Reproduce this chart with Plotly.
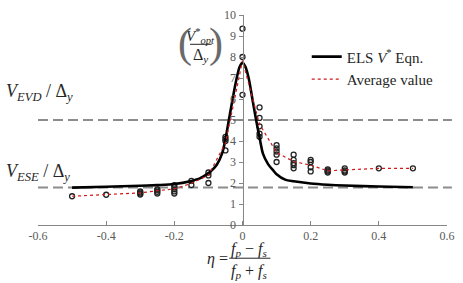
import plotly.graph_objects as go

# ---- data ----
els_eta = [-0.5, -0.4, -0.3, -0.25, -0.2, -0.15, -0.125, -0.1, -0.09, -0.075, -0.06, -0.051,
           -0.04, -0.029, -0.017, -0.008, 0.0, 0.008, 0.018, 0.029, 0.04, 0.052, 0.06, 0.075,
           0.09, 0.1, 0.125, 0.15, 0.2, 0.25, 0.3, 0.4, 0.5]
els_v = [1.78, 1.82, 1.87, 1.9, 1.95, 2.1, 2.22, 2.47, 2.6, 2.88, 3.4, 4.0,
         5.0, 6.0, 7.0, 7.55, 7.72, 7.55, 7.0, 6.0, 5.0, 4.0, 3.4, 2.9,
         2.6, 2.42, 2.16, 2.08, 1.98, 1.92, 1.88, 1.83, 1.8]

avg_eta = [-0.5, -0.4, -0.3, -0.25, -0.2, -0.15, -0.1, -0.05, 0.0, 0.05, 0.1, 0.15, 0.2, 0.25, 0.3, 0.4, 0.5]
avg_v = [1.37, 1.44, 1.53, 1.63, 1.72, 1.98, 2.37, 3.9, 7.83, 4.8, 3.45, 3.02, 2.85, 2.58, 2.63, 2.7, 2.7]

pts_eta = [-0.5, -0.4,
           -0.3, -0.3, -0.3, -0.3,
           -0.25, -0.25, -0.25, -0.25,
           -0.2, -0.2, -0.2, -0.2, -0.2,
           -0.15, -0.15,
           -0.1, -0.1, -0.1,
           -0.05, -0.05, -0.05, -0.05,
           0.0, 0.0, 0.0,
           0.05, 0.05, 0.05, 0.05, 0.05,
           0.1, 0.1, 0.1, 0.1, 0.1,
           0.15, 0.15, 0.15, 0.15, 0.15,
           0.2, 0.2, 0.2, 0.2,
           0.25, 0.25, 0.25, 0.25,
           0.3, 0.3, 0.3, 0.3,
           0.4, 0.5]
pts_v = [1.37, 1.44,
         1.45, 1.5, 1.55, 1.6,
         1.5, 1.58, 1.65, 1.7,
         1.5, 1.6, 1.7, 1.8, 1.9,
         1.9, 2.1,
         2.0, 2.36, 2.5,
         3.55, 4.0, 4.1, 4.2,
         9.35, 8.0, 6.2,
         5.6, 5.1, 4.7, 4.35, 4.2,
         3.8, 3.65, 3.5, 3.35, 3.0,
         3.35, 3.1, 2.95, 2.85, 2.7,
         3.1, 3.0, 2.75, 2.55,
         2.5, 2.55, 2.6, 2.65,
         2.5, 2.55, 2.6, 2.7,
         2.7, 2.7]

v_evd = 5.0
v_ese = 1.78

x_tickvals = [-0.6, -0.4, -0.2, 0.0, 0.2, 0.4, 0.6]
x_ticktext = ["-0.6", "-0.4", "-0.2", "0", "0.2", "0.4", "0.6"]
y_tickvals = list(range(0, 11))

# ---- layout geometry ----
W, H = 463, 283
ML, MR, MT, MB = 38, 8, 10, 58
PW, PH = W - ML - MR, H - MT - MB


def px(x):
    return (x - ML) / PW


def py(y):
    return (H - MB - y) / PH


SERIF = "'Times New Roman', 'Liberation Serif', 'DejaVu Serif', serif"
GREY = "#595959"
TXT = "#262626"

fig = go.Figure()

fig.add_trace(go.Scatter(
    x=pts_eta, y=pts_v, mode="markers", showlegend=False,
    marker=dict(symbol="circle-open", size=5, color="#222222", line=dict(width=1.3, color="#222222")),
))
fig.add_trace(go.Scatter(
    x=els_eta, y=els_v, mode="lines", name="ELS <i>V</i><sup>*</sup> Eqn.",
    line=dict(color="black", width=2.6, shape="spline", smoothing=0.8),
))
fig.add_trace(go.Scatter(
    x=avg_eta, y=avg_v, mode="lines", name="Average value",
    line=dict(color="#D01818", width=1.2, dash="dot"),
))

# horizontal reference lines
for v in (v_evd, v_ese):
    fig.add_shape(type="line", xref="paper", yref="y", x0=0, x1=px(460), y0=v, y1=v,
                  line=dict(color="#8C8C8C", width=2, dash="10px,5px"), layer="below")

ann = []
# left labels
ann.append(dict(text="<i>V</i><sub><i>EVD</i></sub> / Δ<sub><i>y</i></sub>", x=px(3), y=py(89),
                xanchor="left", yanchor="middle", font=dict(family=SERIF, size=18, color=TXT)))
ann.append(dict(text="<i>V</i><sub><i>ESE</i></sub> / Δ<sub><i>y</i></sub>", x=px(3), y=py(171),
                xanchor="left", yanchor="middle", font=dict(family=SERIF, size=18, color=TXT)))
# y title fraction
ann.append(dict(text="<i>V</i><sup>*</sup><sub><i>opt</i></sub>", x=px(204), y=py(31),
                xanchor="center", yanchor="middle", font=dict(family=SERIF, size=15, color=TXT)))
ann.append(dict(text="Δ<sub><i>y</i></sub>", x=px(204), y=py(51),
                xanchor="center", yanchor="middle", font=dict(family=SERIF, size=16, color=TXT)))
ann.append(dict(text="(", x=px(188), y=py(39), xanchor="center", yanchor="middle",
                font=dict(family=SERIF, size=42, color="#6a6a6a")))
ann.append(dict(text=")", x=px(219), y=py(39), xanchor="center", yanchor="middle",
                font=dict(family=SERIF, size=42, color="#6a6a6a")))
# x title fraction
ann.append(dict(text="<i>η</i> =", x=px(221), y=py(260), xanchor="center", yanchor="middle",
                font=dict(family=SERIF, size=16, color=TXT)))
ann.append(dict(text="<i>f</i><sub><i>p</i></sub> − <i>f</i><sub><i>s</i></sub>", x=px(254), y=py(250),
                xanchor="center", yanchor="middle", font=dict(family=SERIF, size=16, color=TXT)))
ann.append(dict(text="<i>f</i><sub><i>p</i></sub> + <i>f</i><sub><i>s</i></sub>", x=px(254), y=py(273),
                xanchor="center", yanchor="middle", font=dict(family=SERIF, size=16, color=TXT)))
for a in ann:
    a.update(xref="paper", yref="paper", showarrow=False)

fig.add_shape(type="line", xref="paper", yref="paper", x0=px(193), x1=px(215), y0=py(40), y1=py(40),
              line=dict(color=TXT, width=1))
fig.add_shape(type="line", xref="paper", yref="paper", x0=px(233), x1=px(275), y0=py(259), y1=py(259),
              line=dict(color=TXT, width=1))

fig.update_layout(
    width=W, height=H, autosize=False,
    margin=dict(l=ML, r=MR, t=MT, b=MB, pad=0),
    paper_bgcolor="white", plot_bgcolor="white",
    font=dict(family=SERIF),
    annotations=ann,
    showlegend=True,
    legend=dict(x=px(312), y=py(36), xanchor="left", yanchor="top",
                bgcolor="rgba(0,0,0,0)", font=dict(family=SERIF, size=15, color=TXT),
                itemwidth=30, tracegroupgap=0),
    xaxis=dict(range=[-0.6, 0.6], tickvals=x_tickvals, ticktext=x_ticktext,
               showgrid=False, zeroline=False, showline=True, linecolor="#868686", linewidth=1,
               ticks="inside", ticklen=4, tickcolor="#868686",
               tickfont=dict(family=SERIF, size=12, color=GREY)),
    yaxis=dict(range=[0, 10], tickvals=y_tickvals, anchor="free", position=0.5,
               showgrid=False, zeroline=False, showline=True, linecolor="#868686", linewidth=1,
               ticks="outside", ticklen=4, tickcolor="#868686",
               tickfont=dict(family=SERIF, size=12, color=GREY)),
)

fig.write_html("out.html")
